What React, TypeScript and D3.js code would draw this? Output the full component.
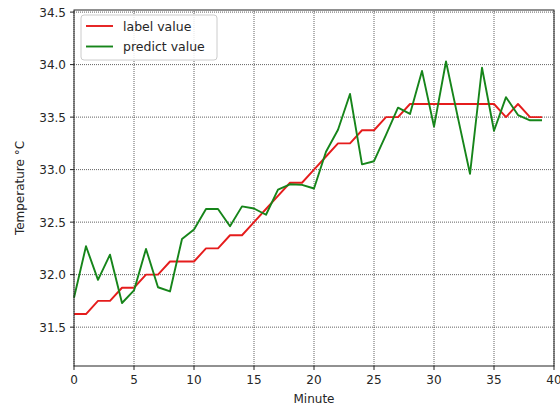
import React from 'react';
import * as d3 from 'd3';

const minutes = d3.range(0, 40);
const labelValues = [
  31.625, 31.625, 31.75, 31.75, 31.875, 31.875, 32.0, 32.0, 32.125, 32.125,
  32.125, 32.25, 32.25, 32.375, 32.375, 32.5, 32.625, 32.75, 32.875, 32.875,
  33.0, 33.125, 33.25, 33.25, 33.375, 33.375, 33.5, 33.5, 33.625, 33.625,
  33.625, 33.625, 33.625, 33.625, 33.625, 33.625, 33.5, 33.625, 33.5, 33.5,
];
const predictValues = [
  31.78, 32.27, 31.95, 32.19, 31.73, 31.85, 32.245, 31.88, 31.84, 32.34,
  32.43, 32.625, 32.625, 32.46, 32.65, 32.63, 32.57, 32.81, 32.86, 32.855,
  32.82, 33.17, 33.38, 33.72, 33.05, 33.08, 33.33, 33.59, 33.53, 33.94,
  33.41, 34.03, 33.49, 32.96, 33.97, 33.37, 33.69, 33.52, 33.47, 33.47,
];
const xTicks = [0, 5, 10, 15, 20, 25, 30, 35, 40];
const yTicks = [31.5, 32.0, 32.5, 33.0, 33.5, 34.0, 34.5];
const seriesNames = ['label value', 'predict value'];
const seriesColors = ['#e51c1c', '#16851a'];

const W = 560;
const H = 408;
const margin = { top: 10, right: 6, bottom: 42, left: 74 };
const font = '"DejaVu Sans", Verdana, sans-serif';

const App = () => {
  const x = d3.scaleLinear().domain([0, 40]).range([margin.left, W - margin.right]);
  const y = d3.scaleLinear().domain([31.13, 34.52]).range([H - margin.bottom, margin.top]);

  const line = d3.line<number>()
    .x((_, i) => x(minutes[i]))
    .y(d => y(d));

  const x0 = margin.left;
  const x1 = W - margin.right;
  const y0 = H - margin.bottom;
  const y1 = margin.top;
  const series = [labelValues, predictValues];

  return (
    <svg width={W} height={H} style={{ position: 'fixed', left: 0, top: 0, background: '#fff' }}
      fontFamily={font}>
      <rect x={0} y={0} width={W} height={H} fill="#fff" />
      {/* grid */}
      <g stroke="#3a3a3a" strokeWidth={0.8} strokeDasharray="1,1">
        {xTicks.map(t => (
          <line key={'gx' + t} x1={x(t)} x2={x(t)} y1={y0} y2={y1} />
        ))}
        {yTicks.map(t => (
          <line key={'gy' + t} x1={x0} x2={x1} y1={y(t)} y2={y(t)} />
        ))}
      </g>
      {/* lines */}
      {series.map((s, i) => (
        <path key={i} d={line(s) || ''} fill="none" stroke={seriesColors[i]}
          strokeWidth={1.9} strokeLinejoin="round" />
      ))}
      {/* frame */}
      <rect x={x0} y={y1} width={x1 - x0} height={y0 - y1} fill="none" stroke="#222" strokeWidth={1} />
      {/* x ticks */}
      <g fontSize={12} fill="#262626" textAnchor="middle">
        {xTicks.map(t => (
          <g key={'xt' + t}>
            <line x1={x(t)} x2={x(t)} y1={y0} y2={y0 + 4} stroke="#222" />
            <text x={x(t)} y={y0 + 18}>{t}</text>
          </g>
        ))}
      </g>
      {/* y ticks */}
      <g fontSize={12} fill="#262626" textAnchor="end">
        {yTicks.map(t => (
          <g key={'yt' + t}>
            <line x1={x0 - 4} x2={x0} y1={y(t)} y2={y(t)} stroke="#222" />
            <text x={x0 - 8} y={y(t) + 4.5}>{t.toFixed(1)}</text>
          </g>
        ))}
      </g>
      <text x={(x0 + x1) / 2} y={H - 5} fontSize={12} fill="#262626" textAnchor="middle">Minute</text>
      <text transform={`translate(24,${(y0 + y1) / 2}) rotate(-90)`} fontSize={12} fill="#262626"
        textAnchor="middle">Temperature °C</text>
      {/* legend */}
      <g>
        <rect x={81} y={15} width={136} height={45} rx={3} fill="#fff" fillOpacity={0.85}
          stroke="#ccc" strokeWidth={1} />
        {seriesNames.map((n, i) => (
          <g key={n}>
            <line x1={86} x2={113} y1={26 + i * 20.5} y2={26 + i * 20.5} stroke={seriesColors[i]}
              strokeWidth={1.9} />
            <text x={123} y={26 + i * 20.5 + 4.5} fontSize={12.5} fill="#262626">{n}</text>
          </g>
        ))}
      </g>
    </svg>
  );
};

export default App;
